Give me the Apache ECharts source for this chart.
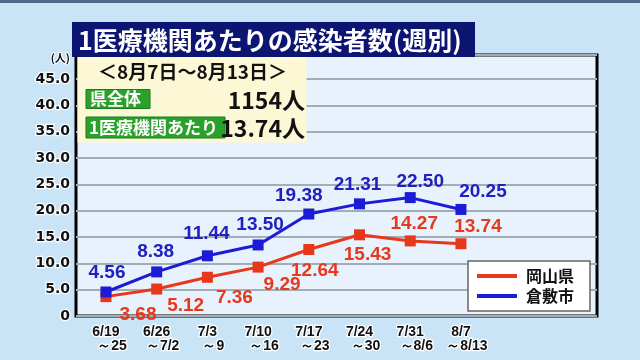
<!DOCTYPE html>
<html>
<head>
<meta charset="utf-8">
<script src="https://cdn.jsdelivr.net/npm/echarts@6/dist/echarts.min.js"></script>
<style>
html,body{margin:0;padding:0;background:#c9e3f7;}
#c{width:640px;height:360px;}
</style>
</head>
<body>
<div id="c"></div>
<script>
// ---- data ----
const categories = ['6/19\n～25', '6/26\n～7/2', '7/3\n～9', '7/10\n～16', '7/17\n～23', '7/24\n～30', '7/31\n～8/6', '8/7\n～8/13'];
const okayama = [3.68, 5.12, 7.36, 9.29, 12.64, 15.43, 14.27, 13.74];
const kurashiki = [4.56, 8.38, 11.44, 13.50, 19.38, 21.31, 22.50, 20.25];
const seriesNames = ['岡山県', '倉敷市'];
const titleText = '1医療機関あたりの感染者数(週別)';
const periodText = '＜8月7日～8月13日＞';
const totalLabel = '県全体';
const totalValue = '1154人';
const perLabel = '1医療機関あたり';
const perValue = '13.74人';
const unitText = '(人)';

// ---- styles (label offsets) ----
const blueOffsets = [[1,-19],[-1,-20],[-1,-22],[2,-20],[-10,-18],[-2,-19],[10,-16],[22,-18]];
const redOffsets = [[32,18],[29,17],[27,20],[24,18],[6,21],[8,20],[4,-17],[17,-17]];

const RED = '#e8381c', BLUE = '#1c1cd6';
const YMAX = 49.6;
const cjk = '"Noto Sans CJK JP", "Noto Sans", sans-serif';

const chart = echarts.init(document.getElementById('c'), null, {renderer: 'canvas'});

function mk(vals, offs) {
  return vals.map((v, i) => ({value: v, label: {offset: offs[i]}}));
}
function txt(x, y, s, font, fill, align, z, extra) {
  return Object.assign({type: 'text', x: x, y: y, z: z,
    style: Object.assign({text: s, font: font, fill: fill, align: align, verticalAlign: 'middle'}, extra || {})});
}

chart.setOption({
  backgroundColor: '#c9e3f7',
  animation: false,
  grid: [
    {left: 76, right: 43, top: 55, bottom: 44, show: true, borderColor: '#000', borderWidth: 3, backgroundColor: '#e7f2fc', z: 0},
    {left: 80.6, right: 153.7, top: 55, bottom: 44}
  ],
  xAxis: [
    {gridIndex: 0, type: 'value', min: 0, max: 1, show: false},
    {gridIndex: 1, type: 'category', data: categories, boundaryGap: true,
     axisLine: {show: false}, axisTick: {show: false},
     axisLabel: {
       margin: 9, interval: 0,
       formatter: function (v) { const p = v.split('\n'); return '{a|' + p[0] + '}\n{b|' + p[1] + '}'; },
       rich: {
         a: {fontFamily: '"Liberation Sans", Arial, sans-serif', fontWeight: 'bold', fontSize: 14, color: '#111', textBorderColor: '#fff', textBorderWidth: 2.5, lineHeight: 14},
         b: {fontFamily: '"Liberation Sans", Arial, sans-serif', fontWeight: 'bold', fontSize: 14, color: '#111', textBorderColor: '#fff', textBorderWidth: 2.5, lineHeight: 14, padding: [0, 0, 0, 12]}
       }
     }}
  ],
  yAxis: [
    {gridIndex: 0, type: 'value', min: 0, max: YMAX, interval: 5,
     axisLine: {show: false}, axisTick: {show: false},
     splitLine: {lineStyle: {color: '#a3adb8', width: 2}},
     axisLabel: {showMaxLabel: false, margin: 6,
       formatter: v => v === 0 ? '0' : v.toFixed(1),
       fontFamily: '"DejaVu Sans", sans-serif', fontWeight: 'bold', fontSize: 14, color: '#111',
       textBorderColor: '#fff', textBorderWidth: 2.5}},
    {gridIndex: 1, type: 'value', min: 0, max: YMAX, interval: 5, show: false, splitLine: {show: false}}
  ],
  legend: {
    data: seriesNames,
    orient: 'vertical',
    left: 468, top: 261,
    padding: [7, 16, 7, 9],
    itemGap: 4,
    itemWidth: 40, itemHeight: 4,
    icon: 'rect',
    backgroundColor: '#fff',
    borderColor: '#666', borderWidth: 1.5,
    textStyle: {fontFamily: cjk, fontWeight: 'bold', fontSize: 16, color: '#111', padding: [0, 0, 0, 4]},
    z: 10
  },
  graphic: [
    {type: 'rect', x: 0, y: 0, shape: {width: 640, height: 3}, style: {fill: '#4d6c8c'}, z: 10},
    {type: 'rect', x: 72, y: 22, shape: {width: 403, height: 35}, style: {fill: '#0c1672'}, z: 10},
    txt(78, 40, titleText, 'bold 25px ' + cjk, '#fff', 'left', 11),
    {type: 'rect', x: 77.5, y: 56.5, shape: {width: 229, height: 86}, style: {fill: '#fcf8d6'}, z: 5},
    txt(98, 72, periodText, 'bold 19px ' + cjk, '#111', 'left', 6),
    {type: 'rect', x: 86, y: 89.5, shape: {width: 64, height: 19}, style: {fill: '#2aa12a', stroke: '#1d7a1d', lineWidth: 1}, z: 6},
    txt(90, 99, totalLabel, 'bold 17px ' + cjk, '#fff', 'left', 7),
    txt(305, 100, totalValue, 'bold 23px ' + cjk, '#111', 'right', 6),
    {type: 'rect', x: 86, y: 117, shape: {width: 139, height: 21}, style: {fill: '#2aa12a', stroke: '#1d7a1d', lineWidth: 1}, z: 6},
    txt(89, 127.5, perLabel, 'bold 17px ' + cjk, '#fff', 'left', 7),
    txt(305, 128, perValue, 'bold 23px ' + cjk, '#111', 'right', 6),
    txt(70, 58, unitText, 'bold 11px ' + cjk, '#111', 'right', 6, {stroke: '#fff', lineWidth: 2})
  ],
  series: [
    {name: seriesNames[0], type: 'line', xAxisIndex: 1, yAxisIndex: 1,
     data: mk(okayama, redOffsets), color: RED,
     symbol: 'rect', symbolSize: 11, lineStyle: {width: 3, color: RED}, itemStyle: {color: RED},
     label: {show: true, position: 'inside', formatter: p => p.value.toFixed(2),
       color: RED, fontFamily: '"Liberation Sans", Arial, sans-serif', fontWeight: 'bold', fontSize: 19},
     z: 3},
    {name: seriesNames[1], type: 'line', xAxisIndex: 1, yAxisIndex: 1,
     data: mk(kurashiki, blueOffsets), color: BLUE,
     symbol: 'rect', symbolSize: 11, lineStyle: {width: 3, color: BLUE}, itemStyle: {color: BLUE},
     label: {show: true, position: 'inside', formatter: p => p.value.toFixed(2),
       color: '#2020c0', fontFamily: '"Liberation Sans", Arial, sans-serif', fontWeight: 'bold', fontSize: 19},
     z: 3}
  ]
});
</script>
</body>
</html>
